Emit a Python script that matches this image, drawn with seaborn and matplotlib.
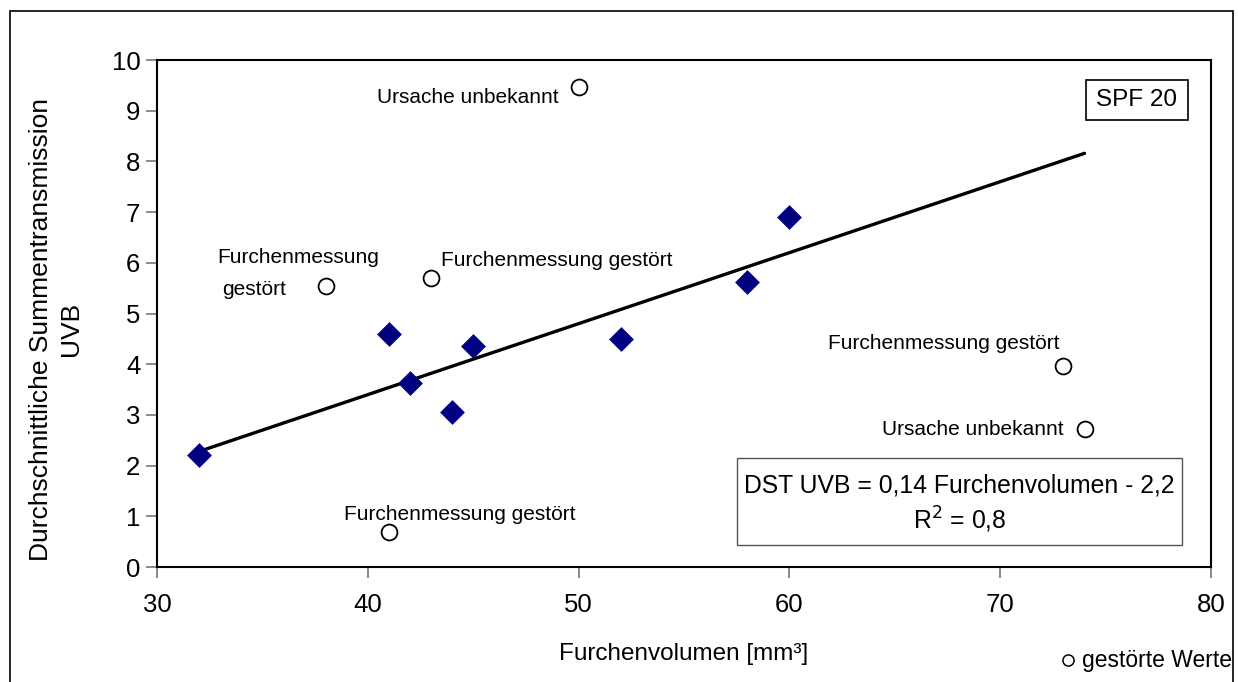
import matplotlib
matplotlib.use("Agg")
import matplotlib.pyplot as plt
import seaborn as sns
import numpy as np
import pandas as pd
from matplotlib.patches import Rectangle
from matplotlib.lines import Line2D

# Valid measurements
valid_volume = [32, 41, 42, 44, 45, 52, 58, 60]
valid_uvb = [2.2, 4.6, 3.63, 3.05, 4.36, 4.5, 5.62, 6.9]

# Disturbed measurements (excluded from the fit)
dist_volume = [50, 38, 43, 41, 73, 74]
dist_uvb = [9.47, 5.54, 5.7, 0.69, 3.96, 2.72]

# Regression: DST UVB = 0,14 Furchenvolumen - 2,2
slope = 0.14
intercept = -2.2
fit_range = [32, 74]

x_ticks = [30, 40, 50, 60, 70, 80]
y_ticks = list(range(0, 11))

sns.set_style("white")
plt.rcParams["font.family"] = ["Liberation Sans", "DejaVu Sans"]
plt.rcParams["text.color"] = "black"
plt.rcParams["axes.labelcolor"] = "black"

fig = plt.figure(figsize=(12.38, 6.82), dpi=100)
ax = fig.add_axes([0.1268, 0.1686, 0.8514, 0.7434])

df_valid = pd.DataFrame({"x": valid_volume, "y": valid_uvb})
df_dist = pd.DataFrame({"x": dist_volume, "y": dist_uvb})
fit_x = np.array(fit_range, dtype=float)
df_fit = pd.DataFrame({"x": fit_x, "y": slope * fit_x + intercept})

sns.lineplot(data=df_fit, x="x", y="y", ax=ax, color="black", linewidth=2.4, zorder=2)
sns.scatterplot(data=df_valid, x="x", y="y", ax=ax, marker="D", s=160,
                color="#000080", edgecolor="#000080", linewidth=0, zorder=3)
sns.scatterplot(data=df_dist, x="x", y="y", ax=ax, marker="o", s=130,
                facecolor="white", edgecolor="black", linewidth=1.3, zorder=3)

ax.set_xlim(30, 80)
ax.set_ylim(0, 10)
ax.set_xticks(x_ticks)
ax.set_yticks(y_ticks)
ax.tick_params(axis="both", direction="out", length=8, width=1.2, color="#777777",
               labelcolor="black", labelsize=18.5, bottom=True, left=True)
ax.tick_params(axis="x", pad=11)
ax.tick_params(axis="y", pad=4)
for sp in ax.spines.values():
    sp.set_visible(True)
    sp.set_color("black")
    sp.set_linewidth(1.5)

ax.set_xlabel("Furchenvolumen [mm³]", fontsize=17.5, va="center")
ax.xaxis.set_label_coords(0.5, -0.1716)
ax.set_ylabel("Durchschnittliche Summentransmission\nUVB", fontsize=19, va="center",
              linespacing=1.3)
ax.yaxis.set_label_coords(-0.0955, 0.469)

# point annotations
ann_kw = dict(fontsize=15, color="black")
ax.text(49.05, 9.26, "Ursache unbekannt", ha="right", va="center", **ann_kw)
ax.text(32.85, 6.1, "Furchenmessung", ha="left", va="center", **ann_kw)
ax.text(33.1, 5.48, "gestört", ha="left", va="center", **ann_kw)
ax.text(43.45, 6.04, "Furchenmessung gestört", ha="left", va="center", **ann_kw)
ax.text(38.85, 1.03, "Furchenmessung gestört", ha="left", va="center", **ann_kw)
ax.text(61.85, 4.4, "Furchenmessung gestört", ha="left", va="center", **ann_kw)
ax.text(73.0, 2.72, "Ursache unbekannt", ha="right", va="center", **ann_kw)

# SPF label box
ax.add_patch(Rectangle((0.8814, 0.8817), 0.0966, 0.0789, transform=ax.transAxes,
                       facecolor="white", edgecolor="black", linewidth=1.2, zorder=4))
ax.text(0.9297, 0.921, "SPF 20", transform=ax.transAxes, ha="center", va="center",
        fontsize=17.5, zorder=5)

# regression equation box
ax.add_patch(Rectangle((0.5503, 0.0434), 0.4222, 0.1716, transform=ax.transAxes,
                       facecolor="white", edgecolor="#555555", linewidth=1.0, zorder=4))
ax.text(0.7614, 0.123, "DST UVB = 0,14 Furchenvolumen - 2,2\nR$^2$ = 0,8",
        transform=ax.transAxes, ha="center", va="center", fontsize=17.8,
        linespacing=1.3, multialignment="center", zorder=5)

# legend for disturbed values
fig.add_artist(Line2D([0.8627], [0.032], transform=fig.transFigure, marker="o",
                      markersize=8, markerfacecolor="white", markeredgecolor="black",
                      markeredgewidth=1.1, linestyle="none"))
fig.text(0.8738, 0.032, "gestörte Werte", ha="left", va="center", fontsize=16.5)

# outer frame
fig.patches.append(Rectangle((0.008, -0.02), 0.988, 1.004, transform=fig.transFigure,
                             fill=False, edgecolor="black", linewidth=1.2))

fig.savefig("out.png", dpi=100)
